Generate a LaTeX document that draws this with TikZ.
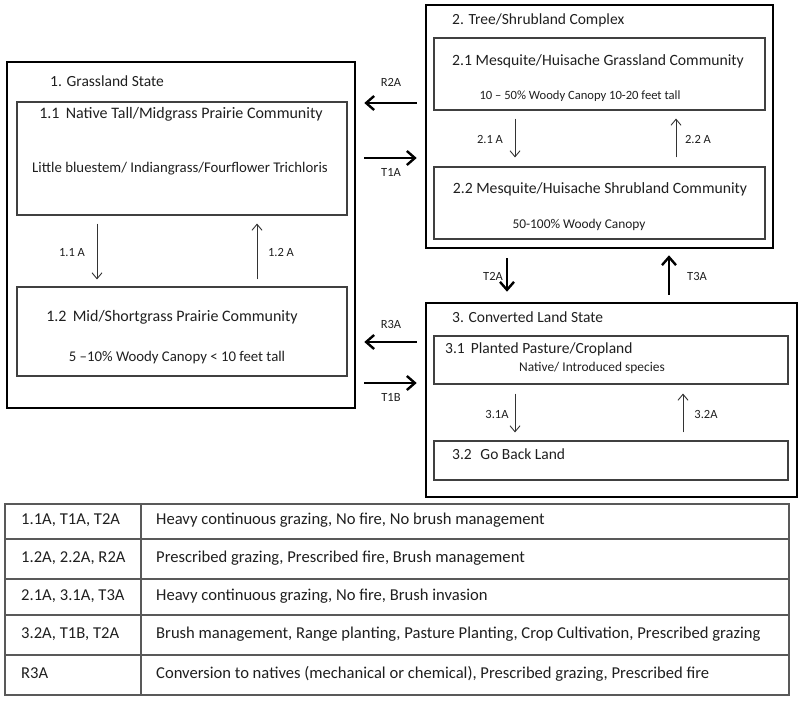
\documentclass[tikz,border=0pt]{standalone}
\usepackage{fontspec}
\setmainfont{Carlito}
\usetikzlibrary{arrows.meta}

\tikzset{
  txt/.style={inner sep=0pt, text height=0.64em, text depth=0pt, text=black!88},
  statebox/.style={draw=black, line width=2.6pt, inner sep=0pt},
  commbox/.style={draw=black!75, line width=1.1pt, inner sep=0pt},
  statelbl/.style={txt, font=\fontsize{15.5}{17}\selectfont, anchor=west},
  commtitle/.style={txt, font=\fontsize{16}{18}\selectfont},
  commsub/.style={txt, font=\fontsize{14.8}{16}\selectfont},
  translbl/.style={txt, font=\fontsize{12.5}{14}\selectfont},
  tabtext/.style={txt, font=\fontsize{16.6}{18}\selectfont, anchor=west},
  tabline/.style={draw=black!65, line width=1.3pt},
  thinarrow/.style={-{Straight Barb[length=6pt,width=10pt]}, line width=0.9pt, black!80},
  bigarrow/.style={-{Straight Barb[length=8pt,width=14pt,line width=2.4pt]}, line width=2.6pt, black,
    shorten <=8pt, shorten >=8pt}
}

\begin{document}
\begin{tikzpicture}[x=1pt, y=-1pt]

  \useasboundingbox (0,0) rectangle (800,707);

  % Estados
  \node[statebox, minimum width=348, minimum height=346] (s1) at (181,235) {};
  \node[statebox, minimum width=347, minimum height=243] (s2) at (599.5,126.5) {};
  \node[statebox, minimum width=371, minimum height=194] (s3) at (611.5,400) {};

  \node[statelbl] (s1lbl) at (50,83) {1. Grassland State};
  \node[statelbl] (s2lbl) at (452,21) {2. Tree/Shrubland Complex};
  \node[statelbl] (s3lbl) at (452,319) {3. Converted Land State};

  % Comunidades
  \node[commbox, minimum width=330, minimum height=113] (c11) at (182,158.5) {};
  \node[commbox, minimum width=330, minimum height=89] (c12) at (182,331.5) {};
  \node[commbox, minimum width=331, minimum height=72] (c21) at (599.5,74) {};
  \node[commbox, minimum width=331, minimum height=72] (c22) at (599.5,203) {};
  \node[commbox, minimum width=354, minimum height=48] (c31) at (611,360) {};
  \node[commbox, minimum width=354, minimum height=39] (c32) at (611,460.5) {};

  \node[commtitle] (c11t) at (181,115) {1.1\, Native Tall/Midgrass Prairie Community};
  \node[commsub] (c11s) at (180,169) {Little bluestem/ Indiangrass/Fourflower Trichloris};
  \node[commtitle] (c12t) at (172,318) {1.2\, Mid/Shortgrass Prairie Community};
  \node[commsub] (c12s) at (177,358) {5 --10\% Woody Canopy \textless{} 10 feet tall};
  \node[commtitle, font=\fontsize{15.7}{17}\selectfont] (c21t) at (598,62) {2.1 Mesquite/Huisache Grassland Community};
  \node[commsub, font=\fontsize{12.6}{14}\selectfont] (c21s) at (580,96) {10 -- 50\% Woody Canopy 10-20 feet tall};
  \node[commtitle, font=\fontsize{15.7}{17}\selectfont] (c22t) at (600,190) {2.2 Mesquite/Huisache Shrubland Community};
  \node[commsub, font=\fontsize{13.4}{15}\selectfont] (c22s) at (579,225) {50-100\% Woody Canopy};
  \node[commtitle, font=\fontsize{15.5}{17}\selectfont, anchor=west] (c31t) at (445,350) {3.1\, Planted Pasture/Cropland};
  \node[commsub, font=\fontsize{13.4}{15}\selectfont] (c31s) at (592,368) {Native/ Introduced species};
  \node[commtitle, font=\fontsize{15.5}{17}\selectfont, anchor=west] (c32t) at (452,456) {3.2\,\, Go Back Land};

  % Transiciones dentro de cada estado
  \draw[thinarrow, shorten <=8pt, shorten >=7pt] ([xshift=-85]c11.south) -- ([xshift=-85]c12.north);
  \draw[thinarrow, shorten <=7pt, shorten >=8pt] ([xshift=75]c12.north) -- ([xshift=75]c11.south);
  \draw[thinarrow, shorten <=8pt, shorten >=9pt] ([xshift=-84.5]c21.south) -- ([xshift=-84.5]c22.north);
  \draw[thinarrow, shorten <=9pt, shorten >=8pt] ([xshift=76.5]c22.north) -- ([xshift=76.5]c21.south);
  \draw[thinarrow, shorten <=9pt, shorten >=8pt] ([xshift=-96]c31.south) -- ([xshift=-96]c32.north);
  \draw[thinarrow, shorten <=8pt, shorten >=9pt] ([xshift=72]c32.north) -- ([xshift=72]c31.south);

  \node[translbl] (t11a) at (72,253) {1.1 A};
  \node[translbl] (t12a) at (281,253) {1.2 A};
  \node[translbl] (t21a) at (490,140) {2.1 A};
  \node[translbl] (t22a) at (698,140) {2.2 A};
  \node[translbl] (t31a) at (497,415) {3.1A};
  \node[translbl] (t32a) at (706,415) {3.2A};

  % Transiciones entre estados
  \draw[bigarrow] (s2.west |- 0,103) -- (s1.east |- 0,103);
  \draw[bigarrow] (s1.east |- 0,158) -- (s2.west |- 0,158);
  \draw[bigarrow] (s3.west |- 0,342) -- (s1.east |- 0,342);
  \draw[bigarrow] (s1.east |- 0,383) -- (s3.west |- 0,383);
  \draw[bigarrow, shorten <=9pt, shorten >=10pt] (s2.south -| 507,0) -- (s3.north -| 507,0);
  \draw[bigarrow, shorten <=7pt, shorten >=6pt] (s3.north -| 669,0) -- (s2.south -| 669,0);

  \node[translbl] (r2a) at (391,83) {R2A};
  \node[translbl] (t1a) at (391,173) {T1A};
  \node[translbl] (r3a) at (391,325) {R3A};
  \node[translbl] (t1b) at (391,398) {T1B};
  \node[translbl] (t2a) at (493,277) {T2A};
  \node[translbl] (t3a) at (697,277) {T3A};

  % Tabla de transiciones
  \draw[tabline] (5,504) rectangle (789,695);
  \draw[tabline] (141,504) -- (141,695);
  \foreach \y in {539,579,615,655}
    \draw[tabline] (5,\y) -- (789,\y);

  \foreach \y/\codes/\why [count=\n] in {
      521.5/{1.1A, T1A, T2A}/{Heavy continuous grazing, No fire, No brush management},
      559/{1.2A, 2.2A, R2A}/{Prescribed grazing, Prescribed fire, Brush management},
      597/{2.1A, 3.1A, T3A}/{Heavy continuous grazing, No fire, Brush invasion},
      635/{3.2A, T1B, T2A}/{Brush management, Range planting, Pasture Planting, Crop Cultivation, Prescribed grazing},
      675/{R3A}/{Conversion to natives (mechanical or chemical), Prescribed grazing, Prescribed fire}}
  {
    \node[tabtext] (k\n) at (21,\y) {\codes};
    \node[tabtext] (d\n) at (156,\y) {\why};
  }

\end{tikzpicture}
\end{document}
